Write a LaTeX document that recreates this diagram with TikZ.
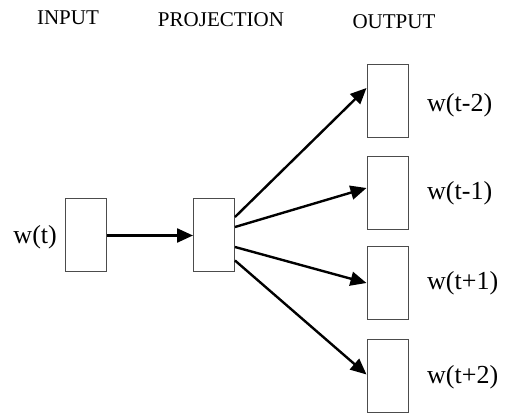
\documentclass[tikz,border=0pt]{standalone}
\usepackage{fontspec}
\setmainfont{Liberation Serif}
\usetikzlibrary{arrows.meta}
\begin{document}
\begin{tikzpicture}[x=1pt,y=-1pt,
  vecbox/.style={draw=black!70,line width=1pt,minimum width=41pt,minimum height=73pt,inner sep=0pt},
  head/.style={font=\fontsize{21}{24}\selectfont,inner sep=0pt,anchor=base},
  lab/.style={font=\fontsize{26}{30}\selectfont,inner sep=0pt},
  conn/.style={line width=2.4pt,-{Triangle[length=16pt,width=14pt]}}]
\useasboundingbox (0,0) rectangle (507,414);
\node[head] (hin) at (68,25) {INPUT};
\node[head] (hproj) at (221,27) {PROJECTION};
\node[head] (hout) at (394,29) {OUTPUT};
\node[vecbox] (in) at (86,235.5) {};
\node[vecbox] (proj) at (214,235.5) {};
\node[vecbox] (o1) at (387.5,101) {};
\node[vecbox] (o2) at (387.5,193.5) {};
\node[vecbox] (o3) at (387.5,283) {};
\node[vecbox] (o4) at (387.5,376.5) {};
\node[lab,anchor=east] (lin) at (57,237) {w(t)};
\node[lab,anchor=west] (l1) at (427,105) {w(t-2)};
\node[lab,anchor=west] (l2) at (427,193) {w(t-1)};
\node[lab,anchor=west] (l3) at (427,283) {w(t+1)};
\node[lab,anchor=west] (l4) at (427,377) {w(t+2)};
\draw[conn] (in.east) -- (proj.west);
\draw[conn] ([yshift=18.5pt]proj.east) -- ([yshift=13pt]o1.west);
\draw[conn] ([yshift=8.5pt]proj.east) -- ([yshift=5.5pt]o2.west);
\draw[conn] ([yshift=-11.5pt]proj.east) -- (o3.west);
\draw[conn] ([yshift=-25pt]proj.east) -- ([yshift=2pt]o4.west);
\end{tikzpicture}
\end{document}
